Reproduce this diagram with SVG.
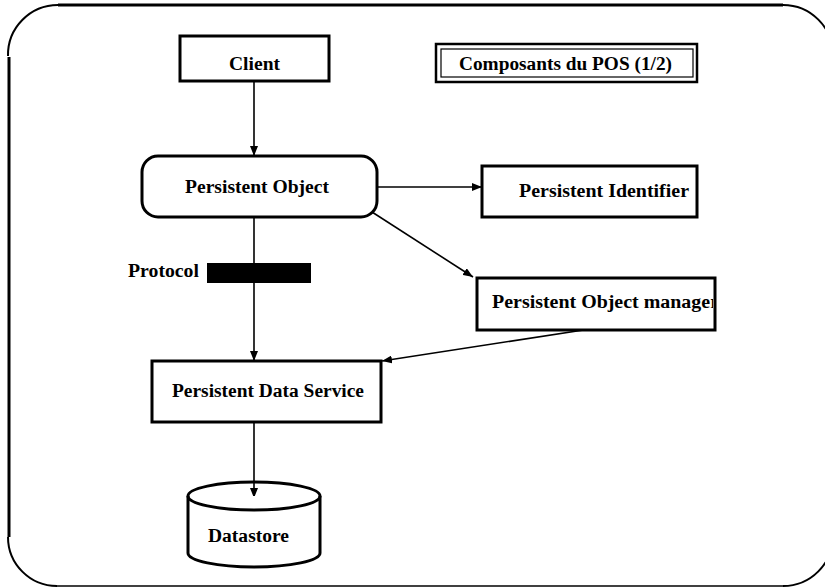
<svg xmlns="http://www.w3.org/2000/svg" width="825" height="587" viewBox="0 0 825 587">
<style>
text{font-family:"Liberation Serif","Times New Roman",serif;font-weight:bold;font-size:19.6px;fill:#000}
.box{fill:#fff;stroke:#000;stroke-width:3}
.ln{stroke:#000;stroke-width:1.6;fill:none}
.frame{fill:none;stroke:#000}
</style>
<defs>
<marker id="ah" viewBox="0 0 10 8" refX="10" refY="4" markerWidth="10" markerHeight="8" markerUnits="userSpaceOnUse" orient="auto">
<path d="M0,0 L10,4 L0,8 Z" fill="#000"/>
</marker>
<clipPath id="pomclip"><rect x="478" y="279" width="235" height="50"/></clipPath>
</defs>
<rect width="825" height="587" fill="#fff"/>
<g id="frame">
<path class="frame" stroke-width="3" d="M58,5 H783"/>
<path class="frame" stroke-width="3" d="M9,57 V537"/>
<path class="frame" stroke-width="2" d="M8,56 A50,50 0 0 1 58,5"/>
<path class="frame" stroke-width="2" d="M783,5 A50,50 0 0 1 833,55"/>
<path class="frame" stroke-width="2" d="M8,537 A49,49 0 0 0 57,586"/>
<path class="frame" stroke-width="2" d="M783,586 A50,50 0 0 0 833,536"/>
<path class="frame" stroke-width="1.5" d="M57,586 H783"/>
</g>
<g id="connectors">
<line class="ln" x1="254" y1="81" x2="254" y2="156" marker-end="url(#ah)"/>
<line class="ln" x1="377" y1="187" x2="482" y2="187" marker-end="url(#ah)"/>
<line class="ln" x1="372" y1="212" x2="473" y2="277" marker-end="url(#ah)"/>
<line class="ln" x1="254" y1="217" x2="254" y2="361" marker-end="url(#ah)"/>
<line class="ln" x1="590" y1="329" x2="382" y2="361" marker-end="url(#ah)"/>
<line class="ln" x1="254" y1="422" x2="254" y2="498" marker-end="url(#ah)"/>
</g>
<g id="title">
<rect x="436" y="44" width="261" height="38" fill="#fff" stroke="#000" stroke-width="2.5"/>
<rect x="441" y="49" width="252" height="28" fill="none" stroke="#000" stroke-width="1.2"/>
<text x="459" y="70" textLength="213" lengthAdjust="spacingAndGlyphs">Composants du POS (1/2)</text>
</g>
<g id="client">
<rect class="box" x="180" y="36" width="149" height="45"/>
<text x="229" y="70" textLength="51" lengthAdjust="spacingAndGlyphs">Client</text>
</g>
<g id="persistent-object">
<rect class="box" x="142" y="156" width="235" height="61" rx="16"/>
<text x="185" y="193" textLength="144" lengthAdjust="spacingAndGlyphs">Persistent Object</text>
</g>
<g id="persistent-identifier">
<rect class="box" x="482" y="166" width="215" height="51"/>
<text x="519" y="197" textLength="170" lengthAdjust="spacingAndGlyphs">Persistent Identifier</text>
</g>
<g id="protocol">
<text x="128" y="277" textLength="71" lengthAdjust="spacingAndGlyphs">Protocol</text>
<rect x="207" y="263" width="104" height="20" fill="#000"/>
</g>
<g id="persistent-object-manager">
<rect class="box" x="477" y="278" width="238" height="52"/>
<text x="492" y="308" clip-path="url(#pomclip)" textLength="227" lengthAdjust="spacingAndGlyphs">Persistent Object manager</text>
</g>
<g id="persistent-data-service">
<rect class="box" x="152" y="361" width="229" height="61"/>
<text x="172" y="397" textLength="192" lengthAdjust="spacingAndGlyphs">Persistent Data Service</text>
</g>
<g id="datastore">
<path d="M188,496 V553 A66,14 0 0 0 320,553 V496" fill="#fff" stroke="#000" stroke-width="3"/>
<ellipse cx="254" cy="496" rx="66" ry="14" fill="none" stroke="#000" stroke-width="3"/>
<text x="208" y="542" textLength="81" lengthAdjust="spacingAndGlyphs">Datastore</text>
</g>
</svg>
